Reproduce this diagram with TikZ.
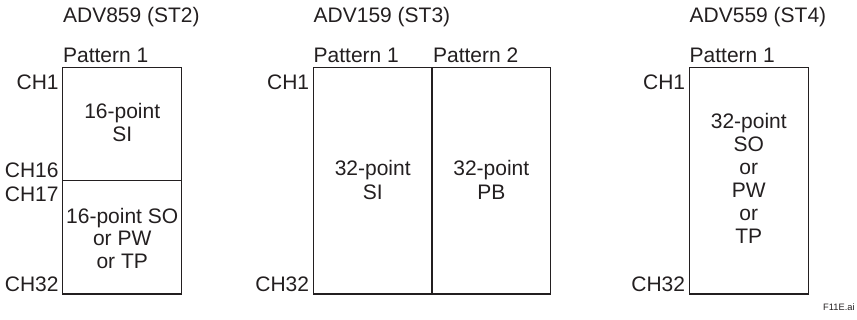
\documentclass[tikz,border=0pt]{standalone}
\usepackage{fontspec}
\setmainfont{Liberation Sans}
\definecolor{ink}{HTML}{231F20}
\begin{document}
\begin{tikzpicture}[x=0.5pt,y=-0.5pt,
  txt/.style={inner sep=0pt,text=ink,font=\fontsize{10.5pt}{11.6pt}\selectfont},
  lbl/.style={txt,anchor=base west},
  ch/.style={txt,anchor=base east},
  cell/.style={txt,anchor=base},
  small/.style={inner sep=0pt,text=ink,font=\fontsize{4.65pt}{5.5pt}\selectfont,anchor=base east},
  boxline/.style={draw=ink,line width=0.65pt}]
\useasboundingbox (0,0) rectangle (857,320);
% ---------- ADV859 ----------
\node[lbl] (t1) at (62.7,23) {ADV859 (ST2)};
\node[lbl] (p11) at (62.7,62.7) {Pattern 1};
\draw[boxline] (62.7,67.3) rectangle (181.7,294);
\draw[boxline] (62.7,180.7) -- (181.7,180.7);
\node[ch] (a1) at (59,89.3) {CH1};
\node[ch] (a16) at (59,178) {CH16};
\node[ch] (a17) at (59,202) {CH17};
\node[ch] (a32) at (59,292) {CH32};
\node[cell] (b1l1) at (122.2,119) {16-point};
\node[cell] (b1l2) at (122.2,141.7) {SI};
\node[cell] (b1l3) at (122.2,223.3) {16-point SO};
\node[cell] (b1l4) at (122.2,246) {or PW};
\node[cell] (b1l5) at (122.2,268.3) {or TP};
% ---------- ADV159 ----------
\node[lbl] (t2) at (313.3,23) {ADV159 (ST3)};
\node[lbl] (p21) at (313.3,62.7) {Pattern 1};
\node[lbl] (p22) at (432.7,62.7) {Pattern 2};
\draw[boxline] (313.3,67.3) rectangle (550.7,294);
\draw[boxline] (432,67.3) -- (432,294);
\node[ch] (c1) at (309.5,89.3) {CH1};
\node[ch] (c32) at (309.5,292) {CH32};
\node[cell] (b2l1) at (372.7,176) {32-point};
\node[cell] (b2l2) at (372.7,199.3) {SI};
\node[cell] (b3l1) at (491.3,176) {32-point};
\node[cell] (b3l2) at (491.3,199.3) {PB};
% ---------- ADV559 ----------
\node[lbl] (t3) at (689.3,23) {ADV559 (ST4)};
\node[lbl] (p31) at (689.3,62.7) {Pattern 1};
\draw[boxline] (689.3,67.3) rectangle (808.3,294);
\node[ch] (d1) at (685.5,89.3) {CH1};
\node[ch] (d32) at (685.5,292) {CH32};
\node[cell] (b4l1) at (748.8,128.3) {32-point};
\node[cell] (b4l2) at (748.8,151.7) {SO};
\node[cell] (b4l3) at (748.8,175) {or};
\node[cell] (b4l4) at (748.8,197.7) {PW};
\node[cell] (b4l5) at (748.8,221) {or};
\node[cell] (b4l6) at (748.8,243.3) {TP};
% ---------- file tag ----------
\node[small] (tag) at (855,311) {F11E.ai};
\end{tikzpicture}
\end{document}
